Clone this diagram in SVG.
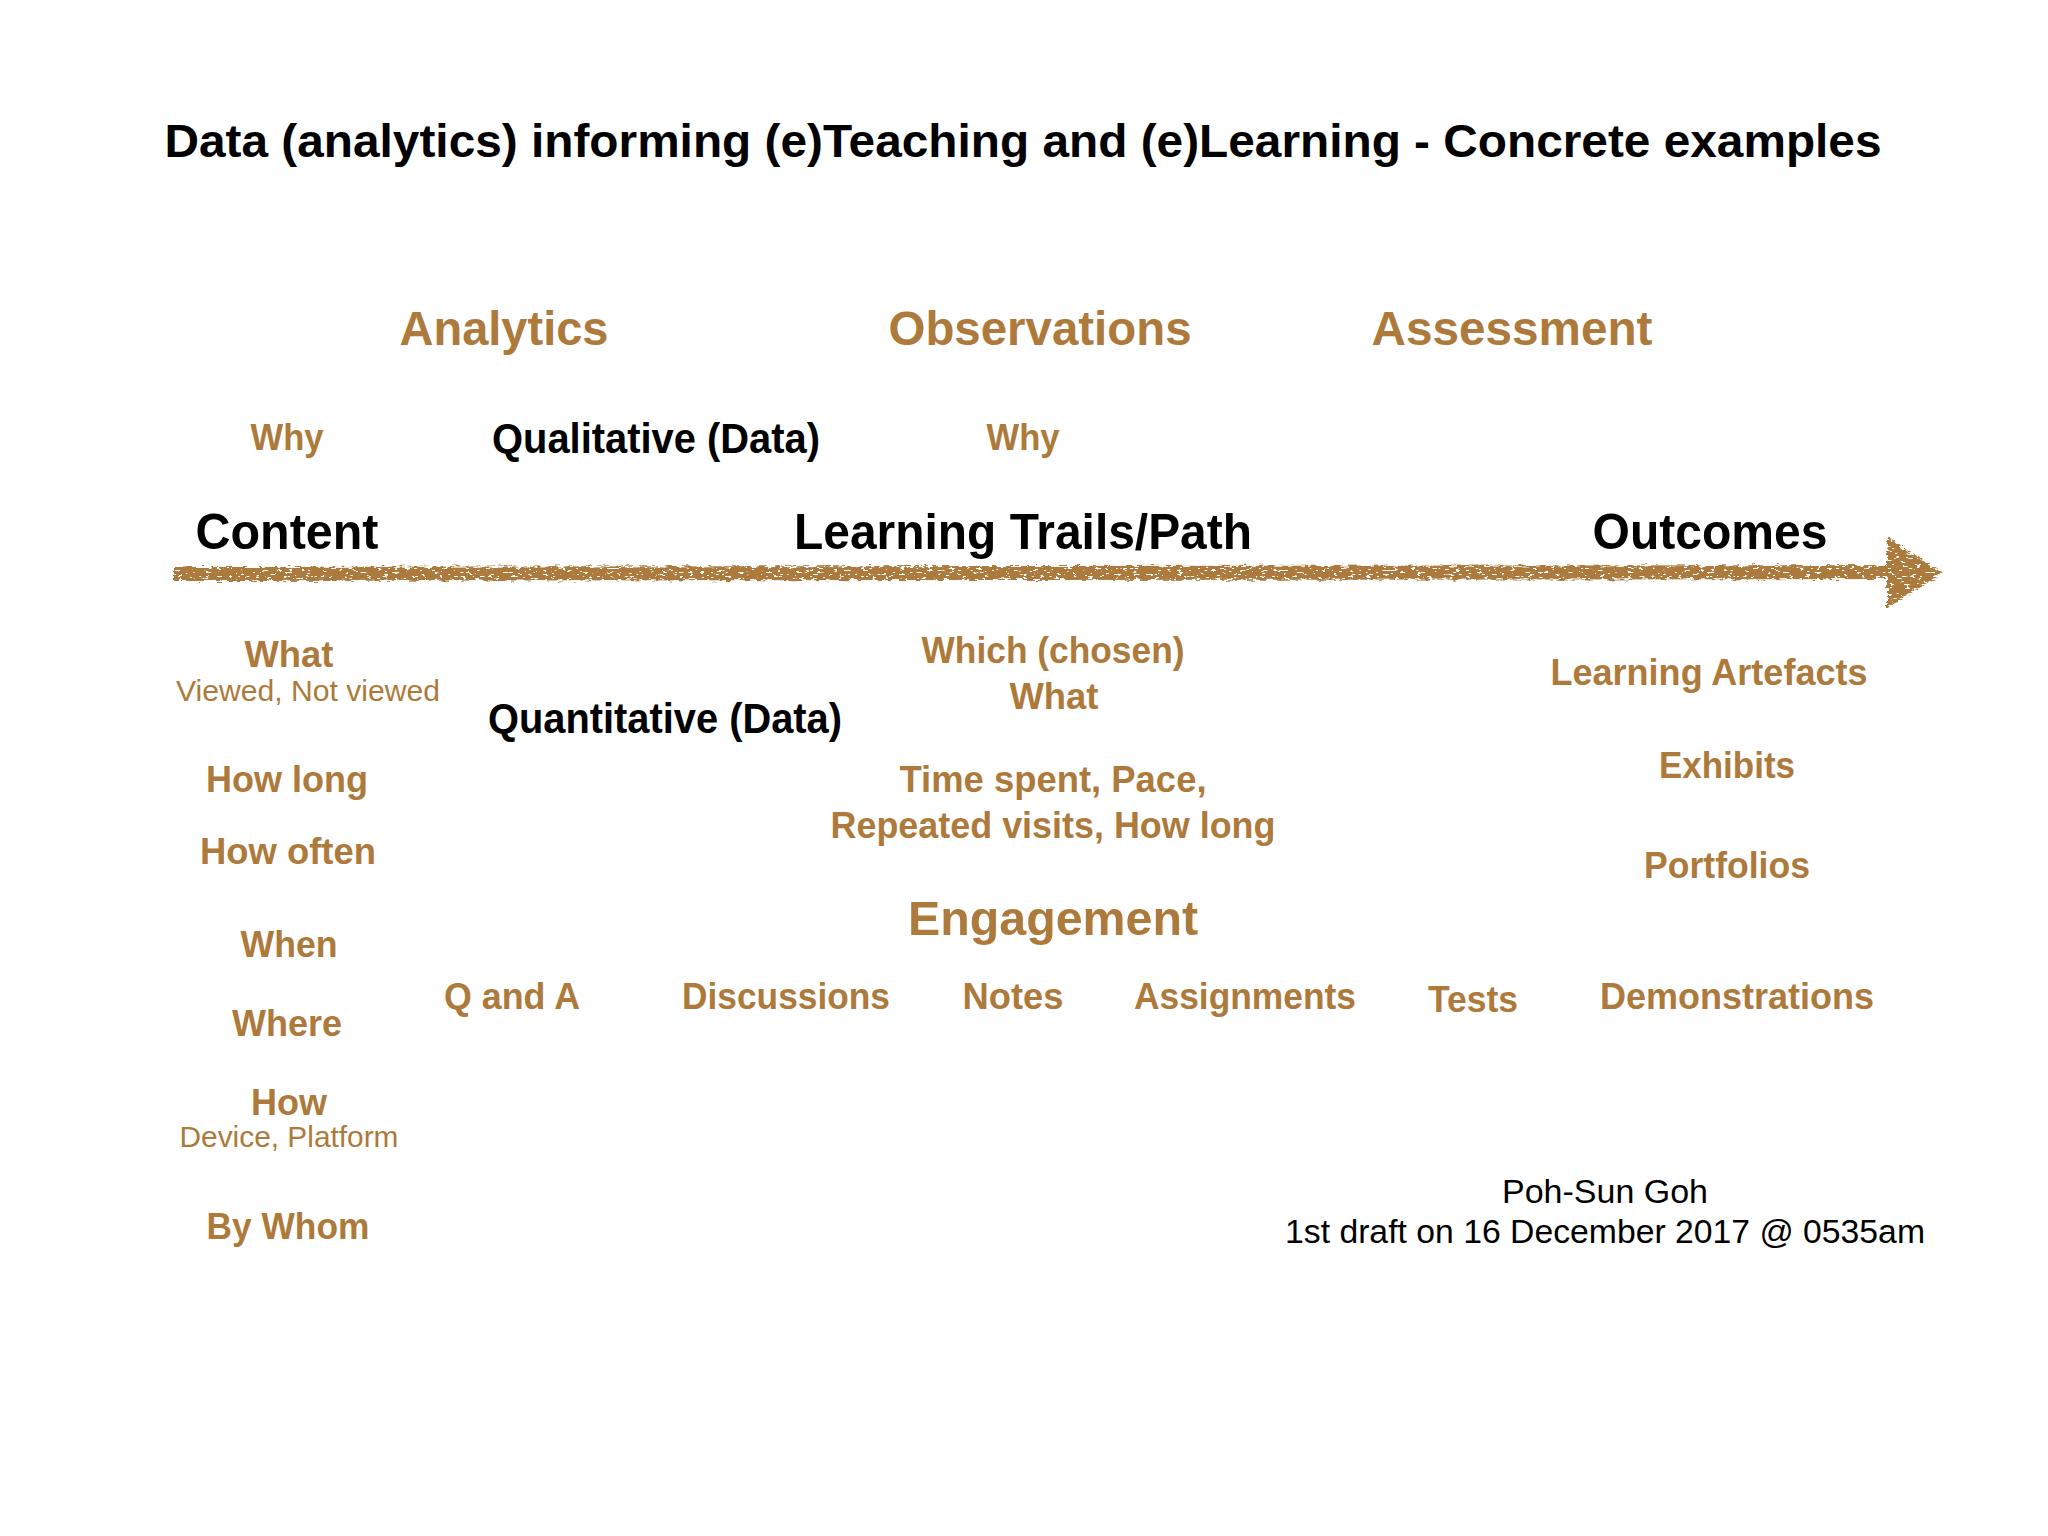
<svg xmlns="http://www.w3.org/2000/svg" width="2048" height="1536" viewBox="0 0 2048 1536">
<defs>
<style>
text{font-family:"Liberation Sans",Arial,Helvetica,sans-serif;text-anchor:middle}
.t{font-weight:bold;font-size:47px;fill:#000}
.h{font-weight:bold;font-size:48px;fill:#AD7A3C}
.b{font-weight:bold;font-size:50px;fill:#000}
.m{font-weight:bold;font-size:42px;fill:#000}
.s{font-weight:bold;font-size:36px;fill:#AD7A3C}
.r{font-size:30px;fill:#AD7A3C}
.k{font-size:33px;fill:#000}
</style>
<filter id="rough" x="-5%" y="-50%" width="110%" height="200%">
<feTurbulence type="fractalNoise" baseFrequency="0.12 0.45" numOctaves="2" seed="4" result="n"/>
<feDisplacementMap in="SourceGraphic" in2="n" scale="7" xChannelSelector="R" yChannelSelector="G" result="d"/>
<feTurbulence type="fractalNoise" baseFrequency="0.18 0.5" numOctaves="2" seed="9" result="sp"/>
<feColorMatrix in="sp" type="matrix" values="0 0 0 0 0  0 0 0 0 0  0 0 0 0 0  0 0 0 -22 15" result="mask"/>
<feComposite in="d" in2="mask" operator="in"/>
</filter>
</defs>
<rect width="2048" height="1536" fill="#fff"/>
<g id="connectors" filter="url(#rough)">
<path d="M174 574 L1892 572" stroke="#AD7A3C" stroke-width="14" fill="none"/>
<path d="M1887 537 L1942 573 L1887 608 Z" fill="#AD7A3C"/>
</g>
<g id="title"><text class="t" x="1023" y="157" textLength="1717" lengthAdjust="spacingAndGlyphs">Data (analytics) informing (e)Teaching and (e)Learning - Concrete examples</text></g>
<g id="analytics"><text class="h" x="504" y="345" textLength="209" lengthAdjust="spacingAndGlyphs">Analytics</text></g>
<g id="observations"><text class="h" x="1040" y="345" textLength="303" lengthAdjust="spacingAndGlyphs">Observations</text></g>
<g id="assessment"><text class="h" x="1512" y="345" textLength="281" lengthAdjust="spacingAndGlyphs">Assessment</text></g>
<g id="why-left"><text class="s" x="287" y="450" textLength="73" lengthAdjust="spacingAndGlyphs">Why</text></g>
<g id="qualitative"><text class="m" x="656" y="453" textLength="328" lengthAdjust="spacingAndGlyphs">Qualitative (Data)</text></g>
<g id="why-mid"><text class="s" x="1023" y="450" textLength="73" lengthAdjust="spacingAndGlyphs">Why</text></g>
<g id="content"><text class="b" x="287" y="549" textLength="183" lengthAdjust="spacingAndGlyphs">Content</text></g>
<g id="learning-trails"><text class="b" x="1023" y="549" textLength="458" lengthAdjust="spacingAndGlyphs">Learning Trails/Path</text></g>
<g id="outcomes"><text class="b" x="1710" y="549" textLength="235" lengthAdjust="spacingAndGlyphs">Outcomes</text></g>
<g id="what-left"><text class="s" x="289" y="667" textLength="89" lengthAdjust="spacingAndGlyphs">What</text>
<text class="r" x="308" y="701" textLength="264" lengthAdjust="spacingAndGlyphs">Viewed, Not viewed</text></g>
<g id="quantitative"><text class="m" x="665" y="733" textLength="354" lengthAdjust="spacingAndGlyphs">Quantitative (Data)</text></g>
<g id="which-chosen"><text class="s" x="1053" y="663" textLength="263" lengthAdjust="spacingAndGlyphs">Which (chosen)</text>
<text class="s" x="1054" y="709" textLength="89" lengthAdjust="spacingAndGlyphs">What</text></g>
<g id="learning-artefacts"><text class="s" x="1709" y="685" textLength="317" lengthAdjust="spacingAndGlyphs">Learning Artefacts</text></g>
<g id="how-long"><text class="s" x="287" y="792" textLength="162" lengthAdjust="spacingAndGlyphs">How long</text></g>
<g id="how-often"><text class="s" x="288" y="864" textLength="176" lengthAdjust="spacingAndGlyphs">How often</text></g>
<g id="time-spent"><text class="s" x="1053" y="792" textLength="307" lengthAdjust="spacingAndGlyphs">Time spent, Pace,</text>
<text class="s" x="1053" y="838" textLength="445" lengthAdjust="spacingAndGlyphs">Repeated visits, How long</text></g>
<g id="exhibits"><text class="s" x="1727" y="778" textLength="136" lengthAdjust="spacingAndGlyphs">Exhibits</text></g>
<g id="portfolios"><text class="s" x="1727" y="878" textLength="166" lengthAdjust="spacingAndGlyphs">Portfolios</text></g>
<g id="engagement"><text class="h" x="1053" y="935" textLength="290" lengthAdjust="spacingAndGlyphs">Engagement</text></g>
<g id="when"><text class="s" x="289" y="957" textLength="97" lengthAdjust="spacingAndGlyphs">When</text></g>
<g id="q-and-a"><text class="s" x="512" y="1009" textLength="136" lengthAdjust="spacingAndGlyphs">Q and A</text></g>
<g id="discussions"><text class="s" x="786" y="1009" textLength="208" lengthAdjust="spacingAndGlyphs">Discussions</text></g>
<g id="notes"><text class="s" x="1013" y="1009" textLength="101" lengthAdjust="spacingAndGlyphs">Notes</text></g>
<g id="assignments"><text class="s" x="1245" y="1009" textLength="222" lengthAdjust="spacingAndGlyphs">Assignments</text></g>
<g id="tests"><text class="s" x="1473" y="1012" textLength="90" lengthAdjust="spacingAndGlyphs">Tests</text></g>
<g id="demonstrations"><text class="s" x="1737" y="1009" textLength="274" lengthAdjust="spacingAndGlyphs">Demonstrations</text></g>
<g id="where"><text class="s" x="287" y="1036" textLength="110" lengthAdjust="spacingAndGlyphs">Where</text></g>
<g id="how"><text class="s" x="289" y="1115" textLength="76" lengthAdjust="spacingAndGlyphs">How</text>
<text class="r" x="289" y="1147" textLength="219" lengthAdjust="spacingAndGlyphs">Device, Platform</text></g>
<g id="by-whom"><text class="s" x="288" y="1239" textLength="163" lengthAdjust="spacingAndGlyphs">By Whom</text></g>
<g id="credit"><text class="k" x="1605" y="1203" textLength="206" lengthAdjust="spacingAndGlyphs">Poh-Sun Goh</text>
<text class="k" x="1605" y="1243" textLength="640" lengthAdjust="spacingAndGlyphs">1st draft on 16 December 2017 @ 0535am</text></g>
</svg>
